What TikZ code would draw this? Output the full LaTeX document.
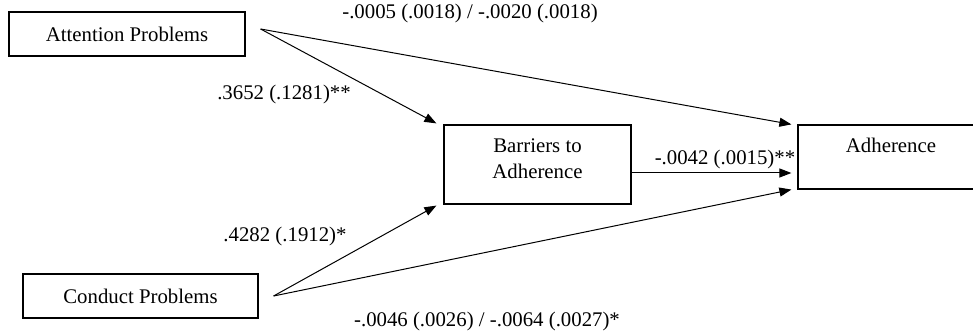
\documentclass[tikz,border=0pt]{standalone}
\usepackage{fontspec}
\setmainfont{Liberation Serif}
\usetikzlibrary{arrows.meta, positioning}

\begin{document}
\begin{tikzpicture}[
            x=0.5pt, y=-0.5pt,
            every node/.style={font=\fontsize{10.4}{13}\selectfont},
            varbox/.style={rectangle, draw=black, line width=0.6pt, inner sep=0pt, text centered},
            coef/.style={inner sep=0pt},
            arrow/.style={line width=0.5pt, -{Triangle[length=6pt, width=4.5pt]}}
        ]

            \useasboundingbox (0,0) rectangle (973,335);

            % Variables del modelo
            \node (att) [varbox, minimum width=118pt, minimum height=22pt] at (127,34) {Attention Problems};
            \node (con) [varbox, minimum width=117.5pt, minimum height=22pt] at (140.5,296) {Conduct Problems};
            \node (barr) [varbox, align=center, minimum width=93.5pt, minimum height=39.5pt, text height=20pt, text depth=5.5pt] at (537.5,164.5) {Barriers to\\Adherence};
            \node (adh) [varbox, minimum width=93pt, minimum height=32pt, text height=7pt, text depth=11.2pt] at (891,157) {Adherence};

            % Puntos de salida de las flechas
            \coordinate (att-out) at ([xshift=7.5pt, yshift=2.5pt]att.east);
            \coordinate (con-out) at ([xshift=7.5pt]con.east);

            % Flechas
            \draw [arrow] (att-out) -- ([xshift=-3.5pt, yshift=0.5pt]barr.north west);
            \draw [arrow] (att-out) -- ([xshift=-3pt]adh.north west);
            \draw [arrow] ([yshift=-4.25pt]barr.east) -- ([xshift=-3pt, yshift=-8pt]adh.west);
            \draw [arrow] (con-out) -- ([xshift=-3.5pt, yshift=-0.5pt]barr.south west);
            \draw [arrow] (con-out) -- ([xshift=-3pt]adh.south west);

            % Coeficientes
            \node (c-att-adh) [coef] at (470,14) {-.0005 (.0018) / -.0020 (.0018)};
            \node (c-att-barr) [coef] at (284,95) {.3652 (.1281)**};
            \node (c-con-barr) [coef] at (285,237) {.4282 (.1912)*};
            \node (c-barr-adh) [coef] at (725,160) {-.0042 (.0015)**};
            \node (c-con-adh) [coef] at (487,322) {-.0046 (.0026) / -.0064 (.0027)*};

        \end{tikzpicture}
\end{document}
